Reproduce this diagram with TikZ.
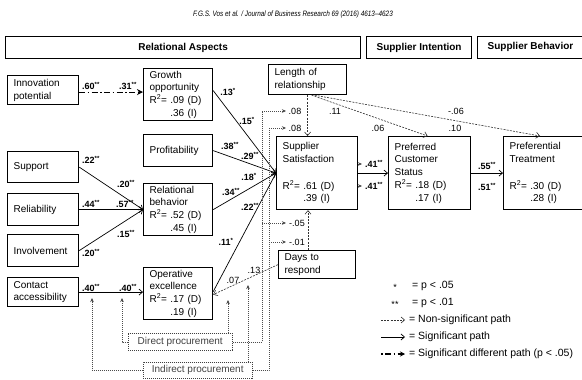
\documentclass[tikz,border=0pt]{standalone}
\usepackage{fontspec}
\setmainfont{Liberation Sans}
\usetikzlibrary{arrows.meta,calc}
\begin{document}
\begin{tikzpicture}[x=1pt,y=-1pt,
  every node/.style={font=\fontsize{10}{12.7}\selectfont},
  bx/.style={draw, line width=1.2pt, fill=white, anchor=north west, inner xsep=6pt, inner ysep=0pt, align=left},
  hd/.style={draw, line width=1.2pt, anchor=north west, inner sep=0pt, font=\fontsize{10}{12}\selectfont\bfseries},
  pb/.style={draw, black!75, line width=0.5pt, dash pattern=on 1.2pt off 0.8pt, fill=white, anchor=north west, inner sep=0pt},
  lab/.style={inner sep=0pt, font=\fontsize{9}{10}\selectfont\bfseries},
  nlab/.style={inner sep=0pt, font=\fontsize{9}{10}\selectfont},
  leg/.style={inner sep=0pt, anchor=west, font=\fontsize{10.5}{12}\selectfont},
  sig/.style={line width=0.7pt, -{Straight Barb[length=3.5pt,width=6pt]}},
  nsig/.style={line width=0.6pt, black!80, dash pattern=on 2pt off 1.2pt, -{Straight Barb[length=3.5pt,width=6pt]}},
  mod/.style={line width=0.5pt, black!70, dash pattern=on 1.2pt off 0.8pt},
  modarr/.style={mod, -{Stealth[length=4pt,width=3.5pt]}},
  ddash/.style={line width=1.2pt, dash pattern=on 6pt off 2.5pt on 1.5pt off 2.5pt, -{Stealth[length=6pt,width=6pt]}},
]
\useasboundingbox (0,0) rectangle (582,380);
\clip (0,0) rectangle (582,380);
\fill[white] (0,0) rectangle (582,380);

% journal header
\node[inner sep=0pt] (jh) at (293,14) {\scalebox{0.82}[1]{\fontsize{7.8}{9}\selectfont\itshape F.G.S. Vos et al. / Journal of Business Research 69 (2016) 4613--4623}};

% section headers
\node[hd, minimum width=355pt, minimum height=22pt] (hra) at (5,36) {Relational Aspects};
\node[hd, minimum width=105pt, minimum height=22pt] (hsi) at (366,36) {Supplier Intention};
\node[hd, minimum width=120pt, minimum height=22pt] (hsb) at (477,36) {};
\node[inner sep=0pt, font=\fontsize{10}{12}\selectfont\bfseries] (hsbt) at (530.5,47) {Supplier Behavior};

% boxes
\node[bx, text width=59pt, minimum height=29pt] (inno) at (7,75) {Innovation\\potential};
\node[bx, text width=57pt, minimum height=52pt] (grow) at (143,68) {Growth\\opportunity\\R\textsuperscript{2}= .09 (D)\\\hphantom{R\textsuperscript{2}= }.36 (I)};
\node[bx, text width=57pt, minimum height=32pt] (prof) at (143,134) {Profitability};
\node[bx, text width=66pt, minimum height=30pt] (len) at (268,64) {Length of\\relationship};
\node[bx, text width=59pt, minimum height=31pt] (sup) at (7,151) {Support};
\node[bx, text width=59pt, minimum height=32pt] (reli) at (7,193) {Reliability};
\node[bx, text width=59pt, minimum height=32pt] (inv) at (7,234) {Involvement};
\node[bx, text width=57pt, minimum height=52pt] (relb) at (143,183) {Relational\\behavior\\R\textsuperscript{2}= .52 (D)\\\hphantom{R\textsuperscript{2}= }.45 (I)};
\node[bx, text width=59pt, minimum height=29pt] (con) at (7,277) {Contact\\accessibility};
\node[bx, text width=57pt, minimum height=52pt] (op) at (143,267) {Operative\\excellence\\R\textsuperscript{2}= .17 (D)\\\hphantom{R\textsuperscript{2}= }.19 (I)};
\node[bx, text width=69pt, minimum height=73pt] (sat) at (276,136) {Supplier\\Satisfaction\\[14pt]R\textsuperscript{2}= .61 (D)\\\hphantom{R\textsuperscript{2}= }.39 (I)};
\node[bx, text width=70pt, minimum height=73pt] (pcs) at (388,136) {Preferred\\Customer\\Status\\R\textsuperscript{2}= .18 (D)\\\hphantom{R\textsuperscript{2}= }.17 (I)};
\node[bx, text width=75pt, minimum height=73pt] (pt) at (503,136) {Preferential\\Treatment\\[14pt]R\textsuperscript{2}= .30 (D)\\\hphantom{R\textsuperscript{2}= }.28 (I)};
\node[bx, text width=65pt, minimum height=28pt] (days) at (278,250) {Days to\\respond};
\node[pb, minimum width=104pt, minimum height=17pt] (dp) at (128,333) {Direct procurement};
\node[pb, minimum width=109pt, minimum height=16pt] (ip) at (143,362) {Indirect procurement};

% significant paths
\draw[ddash] ($(inno.east)+(0,2)$) -- ($(inno.east -| grow.west)+(0,2)$);
\draw[sig] (sup.east) -- (relb.west);
\draw[sig] (reli.east) -- (relb.west);
\draw[sig] (inv.east) -- (relb.west);
\draw[sig] (con.east) -- (con.east -| op.west);
\draw[sig] ($(grow.east)+(0,-4)$) -- (sat.west);
\draw[sig] (prof.east) -- (sat.west);
\draw[sig] (relb.east) -- (sat.west);
\draw[sig] ($(op.east)+(0,-2)$) -- (sat.west);
\draw[sig] (sat.east) -- (pcs.west);
\draw[sig] (pcs.east) -- (pcs.east -| pt.west);

% non-significant paths
\draw[nsig] (len.south) -- (len.south |- sat.north);
\coordinate (dn) at ($(days.north west)+(30,0)$);
\draw[nsig] (dn) -- (dn |- sat.south);
\draw[nsig] ($(len.south)+(4,0)$) -- ($(pcs.north)+(-2,0)$);
\draw[nsig] ($(len.south)+(7,0)$) -- ($(pt.north west)+(37,0)$);
\draw[nsig] (days.west) -- ($(op.east)+(0,1)$);

% moderation lines
\coordinate (m1) at (122,298);
\coordinate (m2) at (92,298);
\coordinate (m3) at (228,300);
\coordinate (m4) at (248,285);
\draw[modarr] (dp.west) -| (m1);
\draw[modarr] (ip.west) -| (m2);
\draw[modarr] (dp.north -| m3) -- (m3);
\draw[modarr] (ip.north -| m4) -- (m4);
\coordinate (dA) at (262,111);
\coordinate (d1) at (286,111);
\coordinate (d2) at (286,223);
\coordinate (iA) at (269,128);
\coordinate (i1) at (286,128);
\coordinate (i2) at (286,242);
\draw[mod] (dp.east) -| (dA);
\draw[modarr] (dA) -- (d1);
\draw[modarr] (dA |- d2) -- (d2);
\draw[mod] (ip.east) -| (iA);
\draw[modarr] (iA) -- (i1);
\draw[modarr] (iA |- i2) -- (i2);
\coordinate (t1) at (362,164);
\coordinate (t2) at (362,186);
\draw[modarr] (sat.east |- t1) -- (t1);
\draw[modarr] (sat.east |- t2) -- (t2);

% labels
\node[lab] (l1) at (91,86) {.60\textsuperscript{**}};
\node[lab] (l2) at (128,86) {.31\textsuperscript{**}};
\node[lab] (l3) at (91,160) {.22\textsuperscript{**}};
\node[lab] (l4) at (126,184) {.20\textsuperscript{**}};
\node[lab] (l5) at (91,204) {.44\textsuperscript{**}};
\node[lab] (l6) at (125,204) {.57\textsuperscript{**}};
\node[lab] (l7) at (91,253) {.20\textsuperscript{**}};
\node[lab] (l8) at (126,234) {.15\textsuperscript{**}};
\node[lab] (l9) at (91,288) {.40\textsuperscript{**}};
\node[lab] (l10) at (128,288) {.40\textsuperscript{**}};
\node[lab] (l11) at (228,92) {.13\textsuperscript{*}};
\node[lab] (l12) at (247,121) {.15\textsuperscript{*}};
\node[lab] (l13) at (230,146) {.38\textsuperscript{**}};
\node[lab] (l14) at (250,156) {.29\textsuperscript{**}};
\node[lab] (l15) at (249,177) {.18\textsuperscript{*}};
\node[lab] (l16) at (231,192) {.34\textsuperscript{**}};
\node[lab] (l17) at (250,207) {.22\textsuperscript{**}};
\node[lab] (l18) at (226,242) {.11\textsuperscript{*}};
\node[nlab] (l19) at (233,280) {.07};
\node[nlab] (l20) at (254,270) {.13};
\node[nlab] (l21) at (295,111) {.08};
\node[nlab] (l22) at (295,128) {.08};
\node[nlab] (l23) at (335,111) {.11};
\node[nlab] (l24) at (378,128) {.06};
\node[nlab] (l25) at (456,111) {-.06};
\node[nlab] (l26) at (455,128) {.10};
\node[nlab] (l27) at (297,223) {-.05};
\node[nlab] (l28) at (297,242) {-.01};
\node[lab] (l29) at (374,164) {.41\textsuperscript{**}};
\node[lab] (l30) at (374,186) {.41\textsuperscript{**}};
\node[lab] (l31) at (487,166) {.55\textsuperscript{**}};
\node[lab] (l32) at (487,187) {.51\textsuperscript{**}};

% legend
\node[nlab] (g1) at (395,287) {*};
\node[leg] (g1t) at (412,286) {= p < .05};
\node[nlab] (g2) at (395,304) {**};
\node[leg] (g2t) at (412,303) {= p < .01};
\coordinate (a1) at (381,320); \coordinate (b1) at (405,320);
\coordinate (a2) at (381,337); \coordinate (b2) at (405,337);
\coordinate (a3) at (381,354); \coordinate (b3) at (405,354);
\draw[nsig] (a1) -- (b1);
\draw[sig] (a2) -- (b2);
\draw[line width=1.1pt, dash pattern=on 1.5pt off 2.5pt on 6pt off 2.5pt, -{Stealth[length=5pt,width=5pt]}] (a3) -- (b3);
\node[leg] (g3t) at (409,320) {= Non-significant path};
\node[leg] (g4t) at (409,337) {= Significant path};
\node[leg] (g5t) at (409,354) {= Significant different path (p < .05)};
\end{tikzpicture}
\end{document}
